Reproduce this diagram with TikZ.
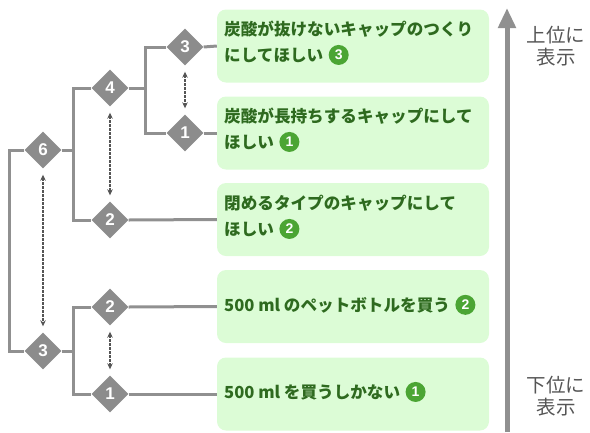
\documentclass[tikz,border=0pt]{standalone}
\usepackage{fontspec}
\usepackage{xcolor}
\usetikzlibrary{shapes.geometric,arrows.meta,positioning}
\newfontfamily\jpfont{Noto Sans CJK JP}
\newfontfamily\numfont{Liberation Sans}
\definecolor{boxgreen}{HTML}{DCFCD6}
\definecolor{textgreen}{HTML}{2E6A1F}
\definecolor{badgegreen}{HTML}{4BA534}
\definecolor{linegray}{HTML}{909090}
\definecolor{diagray}{HTML}{8C8C8C}
\definecolor{darkgray}{HTML}{555555}

\begin{document}
\begin{tikzpicture}[x=1pt,y=-1pt,
  dia/.style={diamond, fill=diagray, text=white, inner sep=0pt, minimum width=37pt, minimum height=37pt, font=\numfont\bfseries\fontsize{17}{17}\selectfont},
  card/.style={rounded corners=9pt, fill=boxgreen, minimum width=272pt, minimum height=73pt, inner sep=0pt},
  cardtext/.style={anchor=base west, inner sep=0pt, text=textgreen, font=\jpfont\bfseries\fontsize{16.6}{20}\selectfont},
  badge/.style={circle, fill=badgegreen, text=white, inner sep=0pt, minimum size=20pt, font=\numfont\bfseries\fontsize{14}{14}\selectfont},
  branch/.style={draw=linegray, line width=3pt},
  swaparrow/.style={draw=darkgray, line width=1.2pt, dash pattern=on 2.2pt off 1.8pt, {Stealth[length=6pt,width=5.5pt]}-{Stealth[length=6pt,width=5.5pt]}, shorten <=6pt, shorten >=6pt}]

\useasboundingbox (0,0) rectangle (590,432);

% Answer cards
\foreach \n/\y in {b1/46, b2/133, b3/219.5, b4/306.5, b5/394}
\node[card] (\n) at (353,\y) {};

% Card texts
\node[cardtext] (b1t1) at (224,35) {炭酸が抜けないキャップのつくり};
\node[cardtext] (b1t2) at (224,61) {にしてほしい};
\node[badge, right=5pt of b1t2] (b1n) {3};
\node[cardtext] (b2t1) at (224,122) {炭酸が長持ちするキャップにして};
\node[cardtext] (b2t2) at (224,148) {ほしい};
\node[badge, right=5pt of b2t2] (b2n) {1};
\node[cardtext] (b3t1) at (224,209) {閉めるタイプのキャップにして};
\node[cardtext] (b3t2) at (224,235) {ほしい};
\node[badge, right=5pt of b3t2] (b3n) {2};
\node[cardtext] (b4t1) at (224,311) {500 ml のペットボトルを買う};
\node[badge, right=5pt of b4t1] (b4n) {2};
\node[cardtext] (b5t1) at (224,398) {500 ml を買うしかない};
\node[badge, right=5pt of b5t1] (b5n) {1};

% Ranking diamonds
\node[dia] (d3a) at (185,47) {3};
\node[dia] (d1a) at (185,133) {1};
\node[dia] (d4) at (110,88) {4};
\node[dia] (d6) at (43,150) {6};
\node[dia] (d2a) at (110,220) {2};
\node[dia] (d2b) at (110,307) {2};
\node[dia] (d1b) at (110,394) {1};
\node[dia] (d3b) at (43,351) {3};

% Tree joints
\coordinate (j4) at (145,88);
\coordinate (j6) at (73,150);
\coordinate (j0) at (9,250);
\coordinate (j3) at (73,351);

% Tree branches
\draw[branch] (d3a.west) -| (j4) |- (d1a.west);
\draw[branch] (d4.east) -- (j4);
\draw[branch] (d4.west) -| (j6) |- (d2a.west);
\draw[branch] (d6.east) -- (j6);
\draw[branch] (d6.west) -| (j0) |- (d3b.west);
\draw[branch] (d2b.west) -| (j3) |- (d1b.west);
\draw[branch] (d3b.east) -- (j3);

% Diamonds to cards
\foreach \d/\b in {d3a/b1, d1a/b2, d2a/b3, d2b/b4, d1b/b5}
\draw[branch] (\d.east) -- (\b.west);

% Swap arrows
\foreach \a/\b in {d3a/d1a, d4/d2a, d6/d3b, d2b/d1b}
\draw[swaparrow] (\a) -- (\b);

% Order axis
\coordinate (axbot) at (507,432);
\coordinate (axtop) at (507,8);
\draw[draw=linegray, line width=5pt, -{Triangle[width=17pt,length=20pt]}] (axbot) -- (axtop);
\node[text=darkgray, align=center, font=\jpfont\fontsize{19.5}{22}\selectfont] (upper) at (556,46) {上位に\\表示};
\node[text=darkgray, align=center, font=\jpfont\fontsize{19.5}{22}\selectfont] (lower) at (556,396) {下位に\\表示};

\end{tikzpicture}
\end{document}
